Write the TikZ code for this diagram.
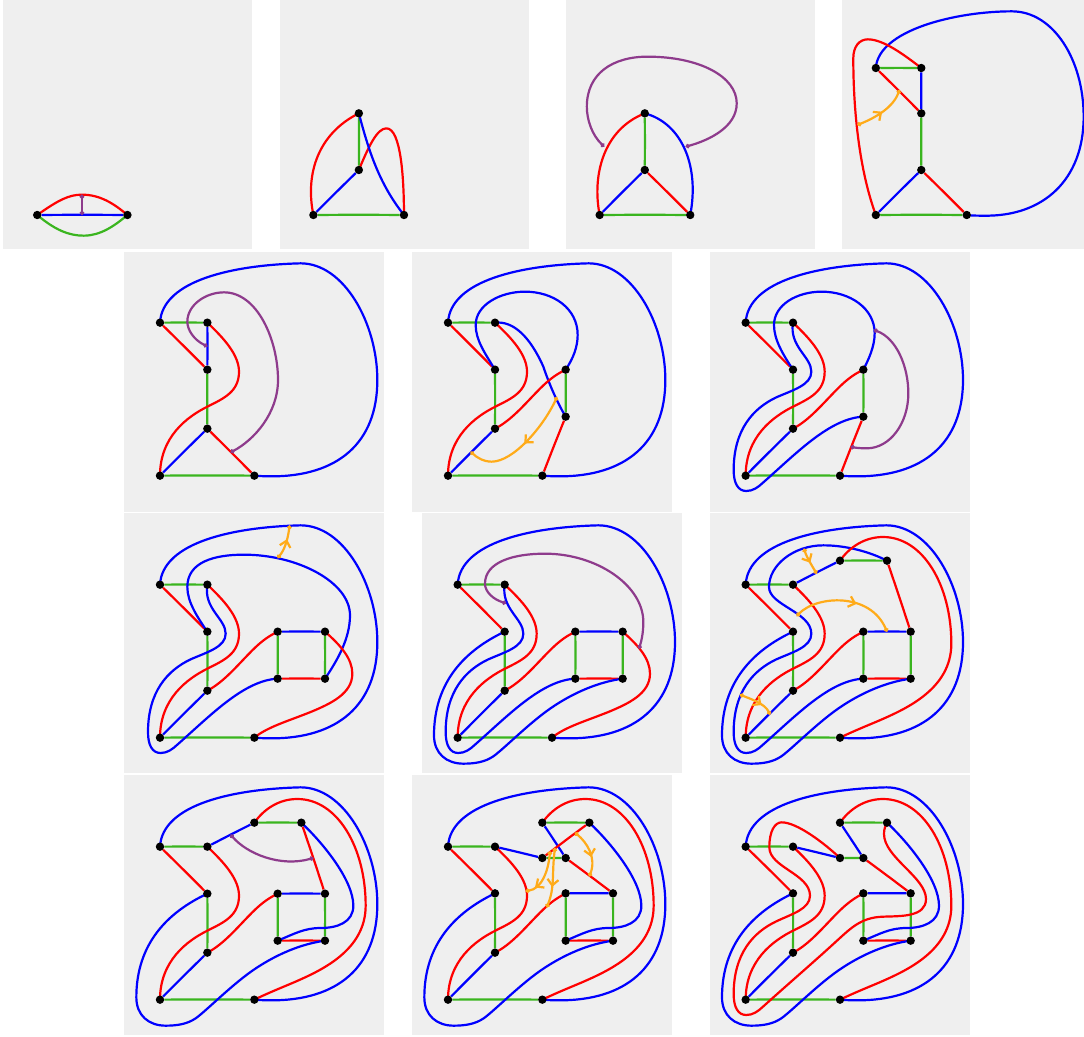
\documentclass[tikz,border=0pt]{standalone}
\usetikzlibrary{arrows.meta,decorations.markings}
\pgfdeclarelayer{top}
\pgfsetlayers{main,top}
\definecolor{panelgrey}{HTML}{EFEFEF}
\definecolor{rd}{HTML}{FF0000}
\definecolor{bl}{HTML}{0000FF}
\definecolor{gn}{HTML}{3AB51F}
\definecolor{pu}{HTML}{8E3B8C}
\definecolor{og}{HTML}{FFAB19}
\tikzset{
  vx/.style={circle,fill=black,inner sep=0pt,minimum size=8.4pt},
  edge/.style={line width=2.2pt,line join=round},
  red edge/.style={edge,draw=rd},
  blue edge/.style={edge,draw=bl},
  green edge/.style={edge,draw=gn},
  purple edge/.style={edge,draw=pu,{Circle[length=4.2pt,width=4.2pt]}-{Circle[length=4.2pt,width=4.2pt]}},
  orange edge/.style={edge,draw=og,{Circle[length=4.2pt,width=4.2pt]}-{Circle[length=4.2pt,width=4.2pt]},
    postaction={decorate,decoration={markings,mark=at position #1 with {\arrow[draw=og,line width=2.2pt]{Straight Barb[length=6pt,width=11pt]}}}}},
  panel/.style={fill=panelgrey,draw=none},
  zthree/.style={x=0.33333pt,y=-0.33333pt},
  zA/.style={x=0.34439pt,y=-0.33333pt},
  zB/.style={x=0.34694pt,y=-0.33333pt},
  pix/.style={x=1pt,y=-1pt}
}
\newcommand{\vxn}[3]{\begin{pgfonlayer}{top}\node[vx] (#1) at (#2,#3) {};\end{pgfonlayer}}
\newcommand{\lnk}[2]{\foreach \u/\v in {#2} \draw[#1] (\u) to[bend left=0.4] (\v);}
% curves that recur from panel to panel; first argument is the horizontal offset of the panel
\newcommand{\outerblue}[3]{\begin{scope}[shift={(#1,0)}]\draw[blue edge] (#2.center) .. controls (115,90) and (330,45) .. (530,40) .. controls (660,40) and (760,220) .. (760,390) .. controls (760,580) and (640,680) .. (440,679) .. controls (420,679) and (405,678) .. (#3.center);\end{scope}}
\newcommand{\redupper}[3]{\begin{scope}[shift={(#1,0)}]\draw[red edge] (#2.center) .. controls (300,265) and (345,315) .. (345,365) .. controls (345,425) and (300,445) .. (250,470) .. controls (190,500) and (108,560) .. (#3.center);\end{scope}}
\newcommand{\redeg}[3]{\begin{scope}[shift={(#1,0)}]\draw[red edge] (#2.center) .. controls (300,510) and (340,460) .. (385,415) .. controls (415,385) and (435,372) .. (#3.center);\end{scope}}
\newcommand{\lowerpart}[1]{.. controls (305,405) and (250,420) .. (200,442) .. controls (130,475) and (72,540) .. (72,660) .. controls (72,700) and (85,723) .. (110,723) .. controls (130,723) and (145,712) .. (160,698) .. controls (260,610) and (360,505) .. (#1.center)}
\newcommand{\bluewrap}[3]{\begin{scope}[shift={(#1,0)}]\draw[blue edge] (#2.center) .. controls (238,290) and (305,320) .. (305,365) \lowerpart{#3};\end{scope}}
\newcommand{\bluedj}[3]{\begin{scope}[shift={(#1,0)}]\draw[blue edge] (#2.center) .. controls (130,415) and (37,510) .. (37,670) .. controls (37,725) and (75,755) .. (125,755) .. controls (160,755) and (190,750) .. (215,733) .. controls (250,708) and (330,625) .. (400,580) .. controls (460,541) and (530,510) .. (#3.center);\end{scope}}
\newcommand{\redif}[3]{\begin{scope}[shift={(#1,0)}]\draw[red edge] (#2.center) .. controls (650,400) and (685,440) .. (685,485) .. controls (685,545) and (620,575) .. (560,600) .. controls (490,628) and (430,645) .. (#3.center);\end{scope}}
\newcommand{\redkf}[3]{\begin{scope}[shift={(#1,0)}]\draw[red edge] (#2.center) .. controls (420,105) and (465,75) .. (520,75) .. controls (640,75) and (725,220) .. (725,395) .. controls (725,530) and (590,590) .. (510,625) .. controls (470,642) and (430,658) .. (#3.center);\end{scope}}
\newcommand{\bluelh}[3]{\begin{scope}[shift={(#1,0)}]\draw[blue edge] (#2.center) .. controls (600,210) and (688,320) .. (688,395) .. controls (688,445) and (640,462) .. (590,462) .. controls (540,462) and (510,480) .. (#3.center);\end{scope}}
\begin{document}
\begin{tikzpicture}
\useasboundingbox (0pt,0pt) rectangle (1084pt,-1036pt);
\begin{scope}[pix]
\fill[panel] (3,0) rectangle (252,249);
\fill[panel] (280,0) rectangle (529,249);
\fill[panel] (566,0) rectangle (815,249);
\fill[panel] (842,0) rectangle (1084,249);
\fill[panel] (124,252) rectangle (384,512);
\fill[panel] (412,252) rectangle (672,512);
\fill[panel] (710,252) rectangle (970,512);
\fill[panel] (124,513) rectangle (384,773);
\fill[panel] (422,513) rectangle (682,773);
\fill[panel] (710,513) rectangle (970,773);
\fill[panel] (124,775) rectangle (384,1035);
\fill[panel] (412,775) rectangle (672,1035);
\fill[panel] (710,775) rectangle (970,1035);
\end{scope}

% ---------- panels 1 and 2
\begin{scope}[zA]
\vxn{Aa}{108}{645}\vxn{Af}{370}{645}
\coordinate (Au) at (238,584); \coordinate (Av) at (238,645);
\lnk{blue edge}{Aa/Af}
\draw[red edge] (Aa.center) .. controls (170,600) and (200,584) .. (238,584) .. controls (290,584) and (330,610) .. (Af.center);
\draw[green edge] (Aa.center) .. controls (160,690) and (200,707) .. (243,707) .. controls (290,707) and (330,680) .. (Af.center);
\draw[purple edge] (Au) -- (Av);

\vxn{Ba}{910}{645}\vxn{Bf}{1173}{645}\vxn{Be}{1042}{510}\vxn{Bt}{1042}{340}
\lnk{green edge}{Ba/Bf,Bt/Be}
\lnk{blue edge}{Ba/Be}
\draw[red edge] (Ba.center) .. controls (885,520) and (925,400) .. (Bt.center);
\draw[red edge] (Be.center) .. controls (1070,440) and (1095,385) .. (1122,385) .. controls (1165,385) and (1173,540) .. (Bf.center);
\draw[blue edge] (Bt.center) .. controls (1070,450) and (1100,550) .. (Bf.center);
\end{scope}

% ---------- panels 3 and 4
\begin{scope}[shift={(540pt,0pt)},zB]
\vxn{Ca}{172}{645}\vxn{Cf}{433}{645}\vxn{Ce}{302}{510}\vxn{Ct}{302}{340}
\coordinate (Cu) at (185,440); \coordinate (Cv) at (420,440);
\lnk{green edge}{Ca/Cf,Ct/Ce}
\lnk{blue edge}{Ca/Ce}
\lnk{red edge}{Ce/Cf}
\draw[red edge] (Ca.center) .. controls (150,530) and (180,390) .. (Ct.center);
\draw[blue edge] (Ct.center) .. controls (410,370) and (460,500) .. (Cf.center);
\draw[purple edge] (Cu) .. controls (150,405) and (135,360) .. (135,320) .. controls (135,220) and (210,170) .. (310,170) .. controls (460,170) and (567,230) .. (567,310) .. controls (567,380) and (490,420) .. (Cv);

\vxn{Da}{968}{645}\vxn{Df}{1230}{645}\vxn{De}{1099}{510}\vxn{Dd}{1099}{340}\vxn{Dc}{1099}{204}\vxn{Db}{968}{204}
\coordinate (Du) at (915,375); \coordinate (Dv) at (1036,270);
\lnk{green edge}{Da/Df,De/Dd,Db/Dc}
\lnk{blue edge}{Da/De,Dd/Dc}
\lnk{red edge}{De/Df,Db/Dd}
\draw[blue edge] (Db.center) .. controls (975,90) and (1200,34) .. (1360,34) .. controls (1480,34) and (1567,180) .. (1567,350) .. controls (1567,540) and (1450,650) .. (1280,647) .. controls (1260,647) and (1245,647) .. (Df.center);
\draw[red edge] (Dc.center) .. controls (1050,165) and (990,118) .. (945,118) .. controls (920,118) and (903,140) .. (903,175) .. controls (903,330) and (920,510) .. (Da.center);
\draw[orange edge=.5] (Du) .. controls (950,360) and (1015,330) .. (Dv);
\end{scope}

% ---------- panel 5
\begin{scope}[shift={(124pt,-250pt)},zthree]
\vxn{Ea}{108}{677}\vxn{Ef}{391}{677}\vxn{Ee}{250}{536}\vxn{Ed}{250}{359}\vxn{Ec}{250}{218}\vxn{Eb}{108}{218}
\coordinate (Eu) at (250,289); \coordinate (Ev) at (320,607);
\lnk{green edge}{Ea/Ef,Ee/Ed,Eb/Ec}
\lnk{blue edge}{Ea/Ee,Ec/Ed}
\lnk{red edge}{Eb/Ed,Ee/Ef}
\outerblue{0}{Eb}{Ef}
\redupper{0}{Ec}{Ea}
\draw[purple edge] (Eu) .. controls (210,270) and (190,240) .. (190,215) .. controls (190,165) and (245,127) .. (300,127) .. controls (400,127) and (462,270) .. (462,390) .. controls (462,490) and (390,570) .. (Ev);
\end{scope}

% ---------- panel 6
\begin{scope}[shift={(410pt,-250pt)},zthree]
\vxn{Fa}{114}{677}\vxn{Fb}{114}{218}\vxn{Fc}{255}{218}\vxn{Fd}{255}{359}\vxn{Fe}{255}{536}\vxn{Ff}{397}{677}\vxn{Fg}{467}{359}\vxn{Fh}{467}{500}
\coordinate (Fu) at (441,441); \coordinate (Fv) at (182,605);
\lnk{green edge}{Fa/Ff,Fb/Fc,Fd/Fe,Fg/Fh}
\lnk{blue edge}{Fa/Fe}
\lnk{red edge}{Fb/Fd,Ff/Fh}
\outerblue{6}{Fb}{Ff}
\draw[blue edge] (Fd.center) .. controls (225,310) and (197,270) .. (197,225) .. controls (197,165) and (270,125) .. (345,125) .. controls (430,125) and (503,175) .. (503,255) .. controls (503,290) and (490,325) .. (Fg.center);
\draw[blue edge] (Fc.center) .. controls (310,212) and (360,260) .. (400,350) .. controls (415,395) and (440,455) .. (Fh.center);
\redupper{6}{Fc}{Fa}
\redeg{6}{Fe}{Fg}
\draw[orange edge=.48] (Fu) .. controls (400,530) and (310,635) .. (245,635) .. controls (220,635) and (200,622) .. (Fv);
\end{scope}

% ---------- panel 7
\begin{scope}[shift={(700pt,-250pt)},zthree]
\vxn{Ga}{137}{677}\vxn{Gb}{137}{218}\vxn{Gc}{279}{218}\vxn{Gd}{279}{359}\vxn{Ge}{279}{536}\vxn{Gf}{420}{677}\vxn{Gg}{490}{359}\vxn{Gh}{490}{500}
\coordinate (Gu) at (522,240); \coordinate (Gv) at (452,590);
\lnk{green edge}{Ga/Gf,Gb/Gc,Gd/Ge,Gg/Gh}
\lnk{blue edge}{Ga/Ge}
\lnk{red edge}{Gb/Gd,Gf/Gh}
\outerblue{29}{Gb}{Gf}
\draw[blue edge] (Gd.center) .. controls (250,315) and (222,270) .. (222,225) .. controls (222,165) and (290,125) .. (365,125) .. controls (450,125) and (524,175) .. (524,250) .. controls (524,290) and (505,330) .. (Gg.center);
\bluewrap{29}{Gc}{Gh}
\redupper{29}{Gc}{Ga}
\redeg{29}{Ge}{Gg}
\draw[purple edge] (Gu) .. controls (590,265) and (625,350) .. (625,430) .. controls (625,520) and (570,595) .. (500,595) .. controls (480,595) and (465,593) .. (Gv);
\end{scope}

% ---------- panel 8
\begin{scope}[shift={(124pt,-512pt)},zthree]
\vxn{Ha}{108}{677}\vxn{Hb}{108}{218}\vxn{Hc}{250}{218}\vxn{Hd}{250}{359}\vxn{He}{250}{536}\vxn{Hf}{391}{677}\vxn{Hg}{461}{359}\vxn{Hi}{603}{359}\vxn{Hh}{461}{500}\vxn{Hj}{603}{500}
\coordinate (Hu) at (461,138); \coordinate (Hv) at (497,40);
\lnk{green edge}{Ha/Hf,Hb/Hc,Hd/He,Hg/Hh,Hi/Hj}
\lnk{blue edge}{Ha/He,Hg/Hi}
\lnk{red edge}{Hb/Hd,Hh/Hj}
\outerblue{0}{Hb}{Hf}
\draw[blue edge] (Hd.center) .. controls (220,315) and (190,270) .. (190,225) .. controls (190,150) and (270,128) .. (360,128) .. controls (520,128) and (678,210) .. (678,310) .. controls (678,380) and (640,445) .. (Hj.center);
\bluewrap{0}{Hc}{Hh}
\redupper{0}{Hc}{Ha}
\redeg{0}{He}{Hg}
\redif{0}{Hi}{Hf}
\draw[orange edge=.6] (Hu) .. controls (480,115) and (490,90) .. (Hv);
\end{scope}

% ---------- panel 9
\begin{scope}[shift={(420pt,-512pt)},zthree]
\vxn{Ia}{113}{677}\vxn{Ib}{113}{218}\vxn{Ic}{254}{218}\vxn{Id}{254}{359}\vxn{Ie}{254}{536}\vxn{If}{396}{677}\vxn{Ig}{466}{359}\vxn{Ii}{608}{359}\vxn{Ih}{466}{500}\vxn{Ij}{608}{500}
\coordinate (Iu) at (258,274); \coordinate (Iv) at (657,410);
\lnk{green edge}{Ia/If,Ib/Ic,Id/Ie,Ig/Ih,Ii/Ij}
\lnk{blue edge}{Ia/Ie,Ig/Ii}
\lnk{red edge}{Ib/Id,Ih/Ij}
\outerblue{5}{Ib}{If}
\bluedj{5}{Id}{Ij}
\bluewrap{5}{Ic}{Ih}
\redupper{5}{Ic}{Ia}
\redeg{5}{Ie}{Ig}
\redif{5}{Ii}{If}
\draw[purple edge] (Iu) .. controls (220,262) and (195,240) .. (195,215) .. controls (195,150) and (280,125) .. (375,125) .. controls (530,125) and (670,220) .. (670,330) .. controls (670,360) and (665,385) .. (Iv);
\end{scope}

% ---------- panel 10
\begin{scope}[shift={(700pt,-512pt)},zthree]
\vxn{Ja}{137}{677}\vxn{Jb}{137}{218}\vxn{Jc}{279}{218}\vxn{Jd}{279}{359}\vxn{Je}{279}{536}\vxn{Jf}{420}{677}\vxn{Jg}{490}{359}\vxn{Ji}{632}{359}\vxn{Jh}{490}{500}\vxn{Jj}{632}{500}\vxn{Jk}{420}{146}\vxn{Jl}{561}{146}
\coordinate (Ju) at (312,110); \coordinate (Jv) at (350,185);
\coordinate (Jw) at (290,312); \coordinate (Jx) at (561,359);
\coordinate (Jy) at (120,548); \coordinate (Jz) at (210,608);
\lnk{green edge}{Ja/Jf,Jb/Jc,Jd/Je,Jg/Jh,Ji/Jj,Jk/Jl}
\lnk{blue edge}{Ja/Je,Jg/Ji,Jc/Jk}
\lnk{red edge}{Jb/Jd,Jh/Jj,Jl/Ji}
\outerblue{29}{Jb}{Jf}
\bluedj{29}{Jd}{Jj}
\begin{scope}[shift={(29,0)}]
\draw[blue edge] (Jl.center) .. controls (481,120) and (411,100) .. (341,100) .. controls (251,100) and (178,160) .. (178,225) .. controls (178,280) and (305,300) .. (305,365) \lowerpart{Jh};
\end{scope}
\redupper{29}{Jc}{Ja}
\redeg{29}{Je}{Jg}
\redkf{29}{Jk}{Jf}
\draw[orange edge=.55] (Ju) .. controls (320,135) and (335,160) .. (Jv);
\draw[orange edge=.6] (Jw) .. controls (350,250) and (510,240) .. (Jx);
\draw[orange edge=.65] (Jy) .. controls (150,560) and (195,575) .. (Jz);
\end{scope}

% ---------- panel 11
\begin{scope}[shift={(124pt,-774pt)},zthree]
\vxn{Ka}{108}{677}\vxn{Kb}{108}{218}\vxn{Kc}{250}{218}\vxn{Kd}{250}{359}\vxn{Ke}{250}{536}\vxn{Kf}{391}{677}\vxn{Kg}{461}{359}\vxn{Ki}{603}{359}\vxn{Kh}{461}{500}\vxn{Kj}{603}{500}\vxn{Kk}{391}{146}\vxn{Kl}{532}{146}
\coordinate (Ku) at (320,182); \coordinate (Kv) at (568,252);
\lnk{green edge}{Ka/Kf,Kb/Kc,Kd/Ke,Kg/Kh,Ki/Kj,Kk/Kl}
\lnk{blue edge}{Ka/Ke,Kg/Ki,Kc/Kk}
\lnk{red edge}{Kb/Kd,Kh/Kj,Kl/Ki}
\outerblue{0}{Kb}{Kf}
\bluedj{0}{Kd}{Kj}
\bluelh{0}{Kl}{Kh}
\redupper{0}{Kc}{Ka}
\redeg{0}{Ke}{Kg}
\redkf{0}{Kk}{Kf}
\draw[purple edge] (Ku) .. controls (370,240) and (470,280) .. (Kv);
\end{scope}

% ---------- panel 12
\begin{scope}[shift={(410pt,-774pt)},zthree]
\vxn{La}{114}{677}\vxn{Lb}{114}{218}\vxn{Lc}{255}{218}\vxn{Ld}{255}{358}\vxn{Le}{255}{536}\vxn{Lf}{397}{677}\vxn{Lg}{467}{358}\vxn{Li}{609}{358}\vxn{Lh}{467}{500}\vxn{Lj}{609}{500}\vxn{Lk}{397}{146}\vxn{Ll}{538}{146}\vxn{Lm}{397}{252}\vxn{Ln}{467}{252}
\coordinate (Lu) at (495,176); \coordinate (Lv) at (538,307);
\coordinate (Lw) at (420,232); \coordinate (Lx) at (347,351);
\coordinate (Ly) at (435,222); \coordinate (Lz) at (410,400);
\lnk{green edge}{La/Lf,Lb/Lc,Ld/Le,Lg/Lh,Li/Lj,Lk/Ll,Lm/Ln}
\lnk{blue edge}{La/Le,Lg/Li,Lc/Lm,Lk/Ln}
\lnk{red edge}{Lb/Ld,Lh/Lj,Ln/Li,Lm/Ll}
\outerblue{6}{Lb}{Lf}
\bluedj{6}{Ld}{Lj}
\bluelh{6}{Ll}{Lh}
\redupper{6}{Lc}{La}
\redeg{6}{Le}{Lg}
\redkf{6}{Lk}{Lf}
\draw[orange edge=.6] (Lu) .. controls (530,205) and (560,250) .. (Lv);
\draw[orange edge=.8] (Lw) .. controls (415,290) and (395,345) .. (Lx);
\draw[orange edge=.65] (Ly) .. controls (425,300) and (435,340) .. (Lz);
\end{scope}

% ---------- panel 13
\begin{scope}[shift={(700pt,-774pt)},zthree]
\vxn{Ma}{137}{677}\vxn{Mb}{137}{218}\vxn{Mc}{279}{218}\vxn{Md}{279}{358}\vxn{Me}{279}{536}\vxn{Mf}{420}{677}\vxn{Mg}{490}{358}\vxn{Mi}{632}{358}\vxn{Mh}{490}{500}\vxn{Mj}{632}{500}\vxn{Mk}{420}{146}\vxn{Ml}{561}{146}\vxn{Mm}{420}{252}\vxn{Mn}{490}{252}
\lnk{green edge}{Ma/Mf,Mb/Mc,Md/Me,Mg/Mh,Mi/Mj,Mk/Ml,Mm/Mn}
\lnk{blue edge}{Ma/Me,Mg/Mi,Mc/Mm,Mk/Mn}
\lnk{red edge}{Mb/Md,Mh/Mj,Mn/Mi}
\outerblue{29}{Mb}{Mf}
\bluedj{29}{Md}{Mj}
\bluelh{29}{Ml}{Mh}
\redupper{29}{Mc}{Ma}
\redeg{29}{Me}{Mg}
\redkf{29}{Mk}{Mf}
\draw[red edge] (Mm.center) .. controls (370,205) and (290,145) .. (245,145) .. controls (225,145) and (208,170) .. (208,220) .. controls (208,280) and (330,300) .. (330,365) .. controls (330,405) and (275,420) .. (229,442) .. controls (159,475) and (101,540) .. (101,660) .. controls (101,700) and (114,723) .. (139,723) .. controls (159,723) and (174,712) .. (189,698) .. controls (270,625) and (340,565) .. (400,510) .. controls (450,465) and (480,430) .. (550,428) .. controls (600,426) and (678,430) .. (678,375) .. controls (678,310) and (552,250) .. (552,180) .. controls (552,165) and (556,155) .. (Ml.center);
\end{scope}
\end{tikzpicture}
\end{document}
